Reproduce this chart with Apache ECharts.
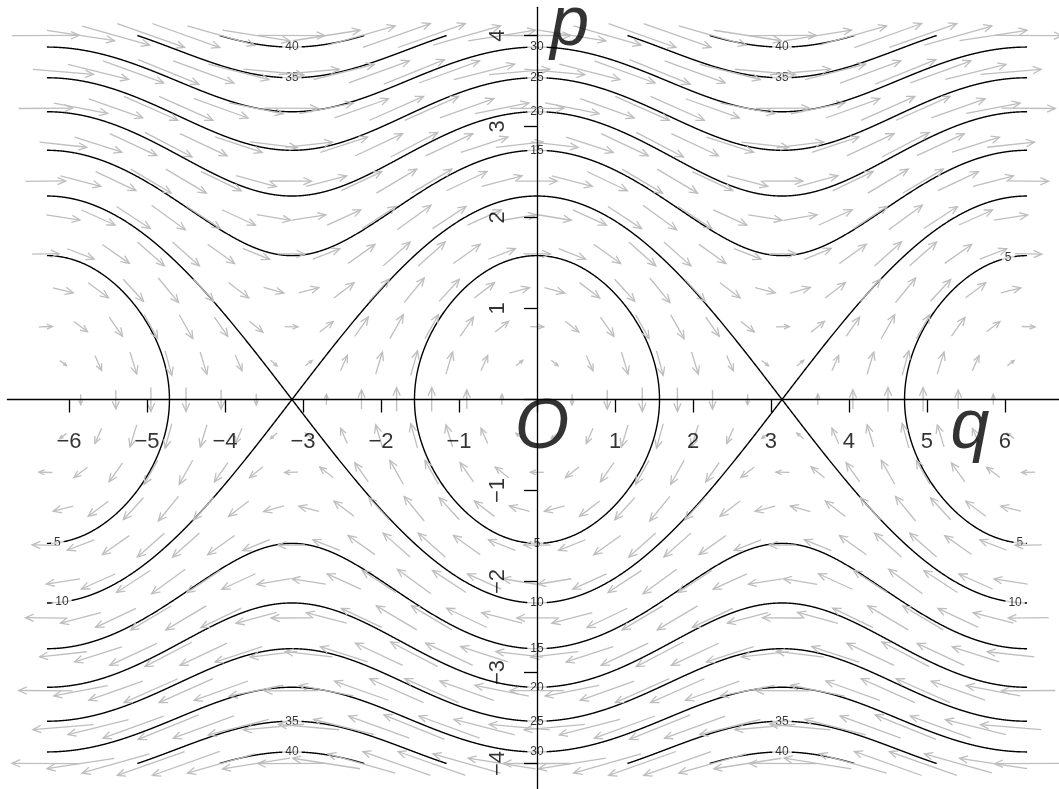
<!DOCTYPE html>
<html>
<head>
<meta charset="utf-8">
<script src="https://cdn.jsdelivr.net/npm/echarts@6/dist/echarts.min.js"></script>
<style>
  html, body { margin: 0; padding: 0; background: #fff; }
  #phase { width: 1059px; height: 789px; }
</style>
</head>
<body>
<div id="phase"></div>
<script>
// pendulum phase portrait, H(q,p) = 2 p^2 + 5 (1 - cos q)
const kineticCoef = 2;
const potentialCoef = 5;
const contourLevels = [5, 10, 15, 20, 25, 30, 35, 40];
const qTicks = [-6, -5, -4, -3, -2, -1, 0, 1, 2, 3, 4, 5, 6];
const pTicks = [-4, -3, -2, -1, 0, 1, 2, 3, 4];
// where each contour gets its number: [level, q, branch]
const labelLevels = [40, 40, 40, 40, 35, 35, 35, 35, 30, 30, 25, 25, 20, 20, 15, 15, 10, 10, 10, 5, 5, 5, 5];
const labelQs = [-3.1416, 3.1416, -3.1416, 3.1416, -3.1416, 3.1416, -3.1416, 3.1416, 0, 0, 0, 0, 0, 0, 0, 0, 0, -6.09, 6.13, 0, -6.15, 6.19, 6.04];
const labelBranch = [1, 1, -1, -1, 1, 1, -1, -1, 1, -1, 1, -1, 1, -1, 1, -1, -1, -1, -1, -1, -1, -1, 1];
// sample points of the gray direction field
const arrowRowsP = [-4.0, -3.6, -3.2, -2.8, -2.4, -2.0, -1.6, -1.2, -0.8, -0.4, 0, 0.4, 0.8, 1.2, 1.6, 2.0, 2.4, 2.8, 3.2, 3.6, 4.0];
const arrowColsQ = [-6.3, -5.85, -5.4, -4.95, -4.5, -4.05, -3.6, -3.15, -2.7, -2.25, -1.8, -1.35, -0.9, -0.45, 0, 0.45, 0.9, 1.35, 1.8, 2.25, 2.7, 3.15, 3.6, 4.05, 4.5, 4.95, 5.4, 5.85, 6.3];

const qLim = 2 * Math.PI;
const pLim = 4;
const arrowScale = 0.054;

function potential(q) { return potentialCoef * (1 - Math.cos(q)); }
function pOn(L, q, s) {
  const v = (L - potential(q)) / kineticCoef;
  return s * Math.sqrt(Math.max(0, v));
}

function inside(pt) {
  return Math.abs(pt[0]) <= qLim + 1e-9 && Math.abs(pt[1]) <= pLim + 1e-9;
}
function crossing(a, b) {
  let t = 1;
  const lims = [[0, qLim], [0, -qLim], [1, pLim], [1, -pLim]];
  lims.forEach(([k, lim]) => {
    const out = lim > 0 ? b[k] > lim : b[k] < lim;
    if (out && b[k] !== a[k]) t = Math.min(t, (lim - a[k]) / (b[k] - a[k]));
  });
  return [a[0] + t * (b[0] - a[0]), a[1] + t * (b[1] - a[1])];
}
function clip(pts) {
  const segs = [];
  let cur = [];
  for (let i = 0; i < pts.length; i++) {
    const pt = pts[i];
    if (inside(pt)) {
      if (!cur.length && i > 0) cur.push(crossing(pt, pts[i - 1]));
      cur.push(pt);
    } else if (cur.length) {
      cur.push(crossing(pts[i - 1], pt));
      segs.push(cur);
      cur = [];
    }
  }
  if (cur.length > 1) segs.push(cur);
  return segs.filter(s => s.length > 1);
}

let contourSegs = [];
const sepLevel = 2 * potentialCoef;
contourLevels.forEach(L => {
  if (L < sepLevel) {
    const a = Math.acos(1 - L / potentialCoef);
    [-2 * Math.PI, 0, 2 * Math.PI].forEach(c => {
      const pts = [];
      for (let i = 0; i <= 720; i++) {
        const th = i / 720 * 2 * Math.PI;
        const q = c + a * Math.cos(th);
        pts.push([q, pOn(L, q, Math.sin(th) >= 0 ? 1 : -1)]);
      }
      contourSegs = contourSegs.concat(clip(pts));
    });
  } else {
    [1, -1].forEach(s => {
      const pts = [];
      for (let i = 0; i <= 2400; i++) {
        const q = -qLim + i / 2400 * 2 * qLim;
        pts.push([q, pOn(L, q, s)]);
      }
      contourSegs = contourSegs.concat(clip(pts));
    });
  }
});

const labelData = labelLevels.map((L, i) => [labelQs[i], pOn(L, labelQs[i], labelBranch[i]), String(L)]);

const arrowData = [];
arrowRowsP.forEach((p, r) => {
  const shift = r % 2 ? 0.225 : 0;
  arrowColsQ.forEach(q => {
    if (q + shift <= 6.45) arrowData.push([q + shift, p]);
  });
});

function tickText(v) { return String(v).replace('-', '\u2212'); }
const qTickLabels = qTicks.filter(v => v !== 0).map(v => [v, 0, tickText(v)]);
const pTickLabels = pTicks.filter(v => v !== 0).map(v => [0, v, tickText(v)]);

const chart = echarts.init(document.getElementById('phase'));
const gray = '#bebebe';
const textSeries = (data, label, z) => ({
  type: 'scatter', silent: true, z: z, symbolSize: 1,
  itemStyle: { color: 'rgba(0,0,0,0)' },
  label: Object.assign({ show: true, position: 'inside', formatter: p => p.data[2], color: '#000' }, label),
  data: data
});

const option = {
  animation: false,
  textStyle: { fontFamily: 'Liberation Sans' },
  grid: { left: 7.4, top: 7.3, width: 1059.2, height: 784.4, containLabel: false, outerBoundsMode: 'none' },
  xAxis: {
    type: 'value', min: -6.79, max: 6.79, z: 10,
    axisLine: { onZero: true, lineStyle: { color: '#000', width: 1.3 } },
    axisTick: { show: true, length: 13, customValues: qTicks, lineStyle: { color: '#000', width: 1.3 } },
    axisLabel: { show: false },
    splitLine: { show: false }
  },
  yAxis: {
    type: 'value', min: -4.31, max: 4.31, z: 10,
    axisLine: { onZero: true, lineStyle: { color: '#000', width: 1.3 } },
    axisTick: { show: true, length: 13, customValues: pTicks, lineStyle: { color: '#000', width: 1.3 } },
    axisLabel: { show: false },
    splitLine: { show: false }
  },
  series: [
    {
      type: 'lines', coordinateSystem: 'cartesian2d', polyline: true, silent: true, z: 2,
      lineStyle: { color: '#000', width: 1.4, opacity: 1 },
      data: contourSegs.map(c => ({ coords: c }))
    },
    textSeries(labelData, { fontSize: 12, backgroundColor: '#fff', padding: [1, 3] }, 3),
    {
      type: 'custom', silent: true, z: 4,
      encode: { x: 0, y: 1 },
      renderItem: function (params, api) {
        const q = api.value(0), p = api.value(1);
        const vq = 2 * kineticCoef * p;
        const vp = -potentialCoef * Math.sin(q);
        const h = arrowScale / 2;
        const a = api.coord([q - vq * h, p - vp * h]);
        const b = api.coord([q + vq * h, p + vp * h]);
        const len = Math.hypot(b[0] - a[0], b[1] - a[1]);
        if (len < 2) return null;
        const ang = Math.atan2(b[1] - a[1], b[0] - a[0]);
        const hl = Math.min(9, len * 0.45), ha = 0.42;
        const w1 = [b[0] - hl * Math.cos(ang - ha), b[1] - hl * Math.sin(ang - ha)];
        const w2 = [b[0] - hl * Math.cos(ang + ha), b[1] - hl * Math.sin(ang + ha)];
        const st = { stroke: gray, lineWidth: 1.3, fill: null };
        return {
          type: 'group',
          children: [
            { type: 'polyline', shape: { points: [a, b] }, style: st },
            { type: 'polyline', shape: { points: [w1, b, w2] }, style: st }
          ]
        };
      },
      data: arrowData
    },
    textSeries(qTickLabels, { fontSize: 22, offset: [0, 42] }, 6),
    textSeries(pTickLabels, { fontSize: 22, offset: [0, -39], rotate: 90 }, 6),
    textSeries([[0.42, 4.115, 'p'], [5.55, -0.324, 'q'], [0.064, -0.324, 'O']], { fontSize: 70, fontStyle: 'italic' }, 6)
  ]
};
chart.setOption(option);
</script>
</body>
</html>
